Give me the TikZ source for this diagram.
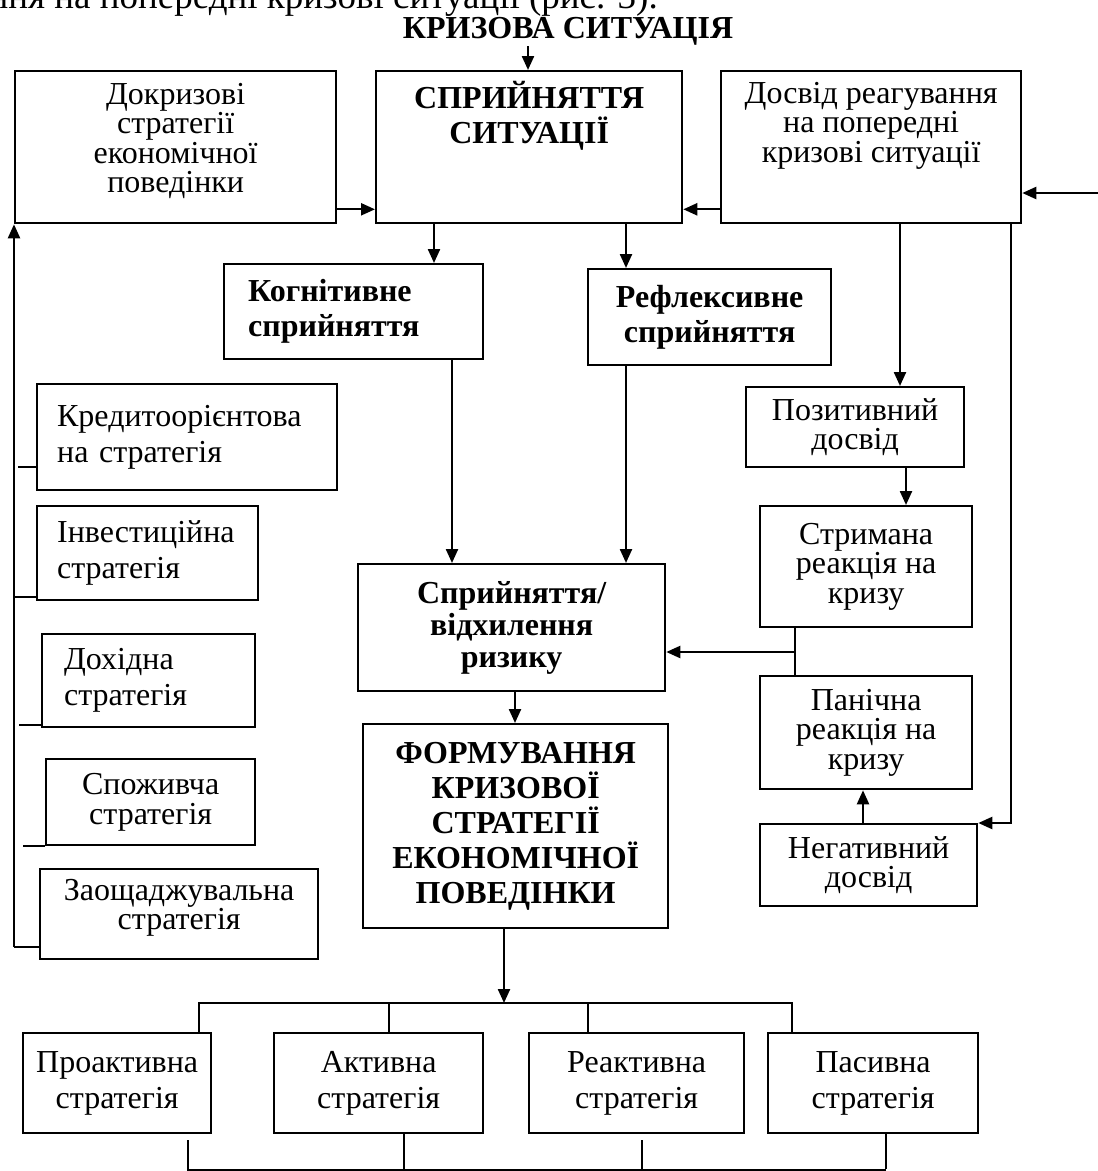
\documentclass[tikz,border=0pt]{standalone}
\usepackage{fontspec}
\setmainfont{Liberation Serif}
\usetikzlibrary{arrows.meta}

% text held at the top of a fixed box
\newcommand{\topblock}[4]{\parbox[t][#2][t]{#1}{\centering\vspace*{#3}#4}}

\tikzset{
  frame/.style={draw, line width=2.3pt, anchor=north west, inner sep=0pt,
    font=\fontsize{32}{29.5}\selectfont},
  box/.style={frame, align=center},
  wide/.style={font=\fontsize{32}{36}\selectfont},
  heavy/.style={font=\fontsize{32}{35}\selectfont\bfseries},
  link/.style={line width=2.3pt},
  arr/.style={link, -{Triangle[length=14pt,width=12pt]}}
}

\begin{document}
\begin{tikzpicture}[x=1pt,y=-1pt]
\path[use as bounding box, clip] (0,0) rectangle (1098,1171);

\node (lead) [font=\fontsize{37}{40}\selectfont, inner sep=0pt, anchor=base east] at (658,8) {ння на попередні кризові ситуації (рис. 3).};
\node (crisis) [font=\fontsize{32}{35}\selectfont\bfseries, inner sep=1pt, anchor=base] at (568,38) {КРИЗОВА СИТУАЦІЯ};

% top row
\node (prev) [frame] at (14,70) {\topblock{321pt}{152pt}{12pt}{Докризові\\стратегії\\економічної\\поведінки}};
\node (perc) [frame, heavy] at (375,70) {\topblock{306pt}{152pt}{10pt}{СПРИЙНЯТТЯ\\СИТУАЦІЇ}};
\node (exp) [frame] at (720,70) {\topblock{300pt}{152pt}{11pt}{Досвід реагування\\на попередні\\кризові ситуації}};

% perception
\node (kog) [box, heavy, align=left, text width=211pt, inner xsep=24pt, minimum height=95pt] at (223,263) {Когнітивне\\сприйняття};
\node (refl) [box, heavy, minimum width=243pt, minimum height=96pt] at (587,268) {Рефлексивне\\сприйняття};
\node (risk) [box, font=\fontsize{32}{32}\selectfont\bfseries, minimum width=307pt, minimum height=127pt] at (357,563) {Сприйняття/\\відхилення\\ризику};
\node (form) [box, heavy, minimum width=305pt, minimum height=204pt] at (362,723) {ФОРМУВАННЯ\\КРИЗОВОЇ\\СТРАТЕГІЇ\\ЕКОНОМІЧНОЇ\\ПОВЕДІНКИ};

% experience
\node (pos) [box, minimum width=218pt, minimum height=80pt] at (745,386) {Позитивний\\досвід};
\node (strm) [box, minimum width=212pt, minimum height=121pt] at (759,505) {Стримана\\реакція на\\кризу};
\node (pan) [box, minimum width=212pt, minimum height=113pt] at (759,675) {Панічна\\реакція на\\кризу};
\node (neg) [box, minimum width=217pt, minimum height=82pt] at (759,823) {Негативний\\досвід};

% pre-crisis strategies
\node (cred) [box, wide, align=left, text width=260pt, inner xsep=20pt, minimum height=106pt] at (36,383) {Кредитоорієнтова\\на стратегія};
\node (inv) [box, wide, align=left, text width=181pt, inner xsep=20pt, minimum height=94pt] at (36,505) {Інвестиційна\\стратегія};
\node (inc) [box, wide, align=left, text width=169pt, inner xsep=22pt, minimum height=93pt] at (41,633) {Дохідна\\стратегія};
\node (cons) [box, minimum width=209pt, minimum height=86pt] at (45,758) {Споживча\\стратегія};
\node (sav) [frame] at (39,868) {\topblock{278pt}{90pt}{10pt}{Заощаджувальна\\стратегія}};

% crisis strategies
\node (pro) [box, wide, minimum width=188pt, minimum height=100pt] at (22,1032) {Проактивна\\стратегія};
\node (act) [box, wide, minimum width=209pt, minimum height=100pt] at (273,1032) {Активна\\стратегія};
\node (rea) [box, wide, minimum width=215pt, minimum height=100pt] at (528,1032) {Реактивна\\стратегія};
\node (pas) [box, wide, minimum width=210pt, minimum height=100pt] at (767,1032) {Пасивна\\стратегія};

\coordinate (feed) at (1098,193);
\coordinate (jn) at (795,652);
\coordinate (bar) at (504,1003);
\coordinate (bus) at (14,947);
\coordinate (base) at (886,1170);

\draw[arr] ([xshift=-40pt]crisis.south) -- ([xshift=153pt]perc.north west);
\draw[arr] ([yshift=15pt]prev.south east) -- ([yshift=15pt]perc.south west);
\draw[arr] ([yshift=15pt]exp.south west) -- ([yshift=15pt]perc.south east);
\draw[arr] (feed) -- (feed -| exp.east);

\draw[arr] ([xshift=59pt]perc.south west) -- ([xshift=211pt]kog.north west);
\draw[arr] ([xshift=251pt]perc.south west) -- ([xshift=39pt]refl.north west);
\draw[arr] ([xshift=229pt]kog.south west) -- ([xshift=95pt]risk.north west);
\draw[arr] ([xshift=39pt]refl.south west) -- ([xshift=269pt]risk.north west);

\draw[arr] ([xshift=180pt]exp.south west) -- ([xshift=155pt]pos.north west);
\draw[arr] ([xshift=161pt]pos.south west) -- ([xshift=147pt]strm.north west);
\draw[link] ([xshift=36pt]strm.south west) -- ([xshift=36pt]pan.north west);
\draw[arr] (jn) -- (jn -| risk.east);
\draw[arr] ([xshift=104pt]neg.north west) -- ([xshift=104pt]pan.south west);
\draw[arr] ([xshift=-11pt]exp.south east) |- (neg.north east);

\draw[arr] ([xshift=158pt]risk.south west) -- ([xshift=153pt]form.north west);
\draw[arr] ([xshift=142pt]form.south west) -- (bar);
\draw[link] ([xshift=177pt]pro.north west) -- ++(0,-29) -| ([xshift=25pt]pas.north west);
\draw[link] ([xshift=116pt]act.north west) -- ++(0,-29);
\draw[link] ([xshift=60pt]rea.north west) -- ++(0,-29);

\draw[arr] (bus) -- (prev.south west);
\draw[link] ([yshift=24pt]cred.south west) -- ++(-18,0);
\draw[link] ([yshift=4pt]inv.south west) -- ++(-22,0);
\draw[link] ([yshift=3pt]inc.south west) -- ++(-22,0);
\draw[link] (cons.south west) -- ++(-22,0);
\draw[link] (bus) -- (bus -| sav.west);

\draw[link] ([xshift=166pt,yshift=-6pt]pro.south west) |- (base);
\draw[link] ([xshift=131pt]act.south west) -- ++(0,35);
\draw[link] ([xshift=114pt,yshift=-6pt]rea.south west) -- ++(0,32);
\draw[link] ([xshift=119pt]pas.south west) -- ++(0,35);

\end{tikzpicture}
\end{document}
